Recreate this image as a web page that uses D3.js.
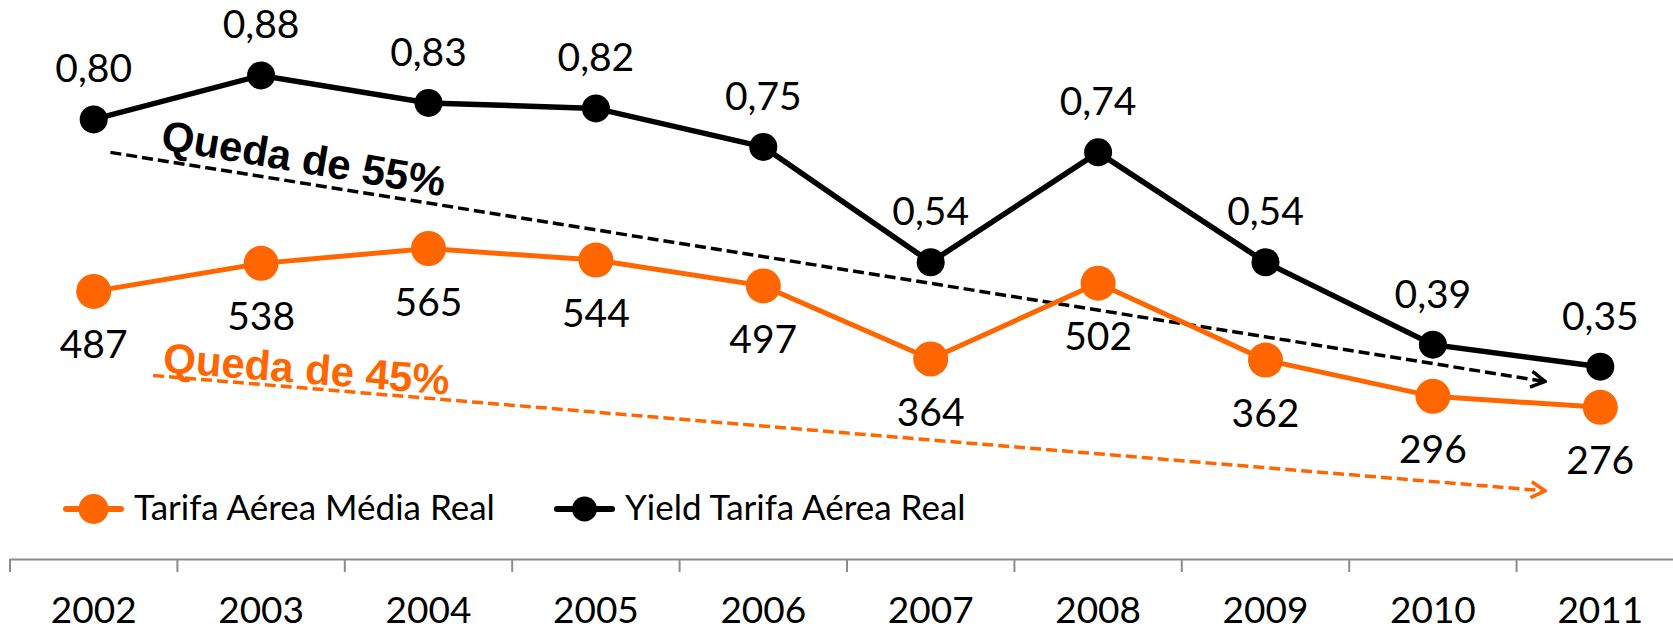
<!DOCTYPE html>
<html>
<head>
<meta charset="utf-8">
<script src="https://cdn.jsdelivr.net/npm/d3@7"></script>
<style>
  body { margin: 0; background: #fff; }
  svg { display: block; }
</style>
</head>
<body>
<div id="chart"></div>
<script>
// data
const years = ["2002", "2003", "2004", "2005", "2006", "2007", "2008", "2009", "2010", "2011"];
const tarifa = [487, 538, 565, 544, 497, 364, 502, 362, 296, 276];
const yieldReal = [0.80, 0.88, 0.83, 0.82, 0.75, 0.54, 0.74, 0.54, 0.39, 0.35];
const seriesNames = ["Tarifa Aérea Média Real", "Yield Tarifa Aérea Real"];
// trend annotations, in category index / value units
const trendArrows = [
    { scale: "yield", i0: 0.10, v0: 0.74, i1: 8.67, v1: 0.323 },
    { scale: "tarifa", i0: 0.355, v0: 334, i1: 8.67, v1: 124 }
];
const trendLabels = [
    { scale: "yield", text: "Queda de 55%", i: 0.395, v: 0.746, angle: 9.5 },
    { scale: "tarifa", text: "Queda de 45%", i: 0.41, v: 340, angle: 4.5 }
];

const width = 1673, height = 630;
const orange = "#FF6600", black = "#000000";
const labelFont = "Lato, 'Open Sans', sans-serif";

const svg = d3.select("#chart")
    .append("svg")
    .attr("width", width)
    .attr("height", height);

// scales
const x = d3.scaleBand()
    .domain(years)
    .range([10, 1684])
    .padding(0);
const xc = d => x(d) + x.bandwidth() / 2;
const xi = i => xc(years[0]) + i * x.step();

const yT = d3.scaleLinear().domain([0, 1000]).range([559, 9.5]);
const yY = d3.scaleLinear().domain([0, 1]).range([559, 9.5]);
const scales = { tarifa: yT, yield: yY };

// x axis
const axis = svg.append("g")
    .attr("transform", `translate(0, ${yT(0)})`)
    .call(d3.axisBottom(x).tickSizeInner(0).tickSizeOuter(0));
axis.select(".domain").attr("stroke", "#8c8c8c").attr("stroke-width", 2);
axis.selectAll("text")
    .attr("y", 64)
    .attr("dy", 0)
    .attr("fill", "#000")
    .style("font-family", labelFont)
    .style("font-size", "37px");
axis.selectAll(".tickmark")
    .data(years)
    .join("line")
    .attr("class", "tickmark")
    .attr("x1", d => x(d))
    .attr("x2", d => x(d))
    .attr("y1", 0)
    .attr("y2", 13)
    .attr("stroke", "#8c8c8c")
    .attr("stroke-width", 2);

// arrow heads
const defs = svg.append("defs");
[["arrowBlack", black], ["arrowOrange", orange]].forEach(([id, c]) => {
    defs.append("marker")
        .attr("id", id)
        .attr("markerUnits", "userSpaceOnUse")
        .attr("viewBox", "0 0 20 20")
        .attr("refX", 18)
        .attr("refY", 10)
        .attr("markerWidth", 20)
        .attr("markerHeight", 20)
        .attr("orient", "auto")
        .append("path")
        .attr("d", "M4,2 L18,10 L4,18")
        .attr("fill", "none")
        .attr("stroke", c)
        .attr("stroke-width", 3.5);
});

// trend arrows
svg.selectAll(".trend")
    .data(trendArrows)
    .join("line")
    .attr("class", "trend")
    .attr("x1", d => xi(d.i0))
    .attr("y1", d => scales[d.scale](d.v0))
    .attr("x2", d => xi(d.i1))
    .attr("y2", d => scales[d.scale](d.v1))
    .attr("stroke", d => d.scale === "yield" ? black : orange)
    .attr("stroke-width", 3.5)
    .attr("stroke-dasharray", "11,5")
    .attr("marker-end", d => d.scale === "yield" ? "url(#arrowBlack)" : "url(#arrowOrange)");

svg.selectAll(".trendLabel")
    .data(trendLabels)
    .join("text")
    .attr("class", "trendLabel")
    .attr("transform", d => `translate(${xi(d.i)},${scales[d.scale](d.v)}) rotate(${d.angle})`)
    .attr("fill", d => d.scale === "yield" ? black : orange)
    .style("font-family", "'Liberation Sans', Arial, sans-serif")
    .style("font-weight", "bold")
    .style("font-size", "42px")
    .text(d => d.text);

// lines
const lineT = d3.line().x((d, i) => xc(years[i])).y(d => yT(d));
const lineY = d3.line().x((d, i) => xc(years[i])).y(d => yY(d));

svg.append("path")
    .datum(tarifa)
    .attr("d", lineT)
    .attr("fill", "none")
    .attr("stroke", orange)
    .attr("stroke-width", 5);

svg.append("path")
    .datum(yieldReal)
    .attr("d", lineY)
    .attr("fill", "none")
    .attr("stroke", black)
    .attr("stroke-width", 5.5);

// points
svg.selectAll(".dotT")
    .data(tarifa)
    .join("circle")
    .attr("class", "dotT")
    .attr("cx", (d, i) => xc(years[i]))
    .attr("cy", d => yT(d))
    .attr("r", 17.5)
    .attr("fill", orange);

svg.selectAll(".dotY")
    .data(yieldReal)
    .join("circle")
    .attr("class", "dotY")
    .attr("cx", (d, i) => xc(years[i]))
    .attr("cy", d => yY(d))
    .attr("r", 14)
    .attr("fill", black);

// value labels
svg.selectAll(".labT")
    .data(tarifa)
    .join("text")
    .attr("class", "labT")
    .attr("x", (d, i) => xc(years[i]))
    .attr("y", d => yT(d) + 67)
    .attr("text-anchor", "middle")
    .style("font-family", labelFont)
    .style("font-size", "39px")
    .text(d => d);

svg.selectAll(".labY")
    .data(yieldReal)
    .join("text")
    .attr("class", "labY")
    .attr("x", (d, i) => xc(years[i]))
    .attr("y", d => yY(d) - 37)
    .attr("text-anchor", "middle")
    .style("font-family", labelFont)
    .style("font-size", "39px")
    .text(d => d.toFixed(2).replace(".", ","));

// legend
const legend = svg.append("g").attr("transform", "translate(0,509)");
const legendItems = [
    { name: seriesNames[0], color: orange, r: 15, x: 66 },
    { name: seriesNames[1], color: black, r: 12.5, x: 557 }
];
const li = legend.selectAll("g")
    .data(legendItems)
    .join("g")
    .attr("transform", d => `translate(${d.x},0)`);
li.append("line")
    .attr("x1", 0).attr("x2", 55)
    .attr("stroke", d => d.color)
    .attr("stroke-width", 6)
    .attr("stroke-linecap", "round");
li.append("circle")
    .attr("cx", 27.5)
    .attr("r", d => d.r)
    .attr("fill", d => d.color);
li.append("text")
    .attr("x", 68)
    .attr("y", 11)
    .style("font-family", labelFont)
    .style("font-size", "35px")
    .text(d => d.name);
</script>
</body>
</html>
